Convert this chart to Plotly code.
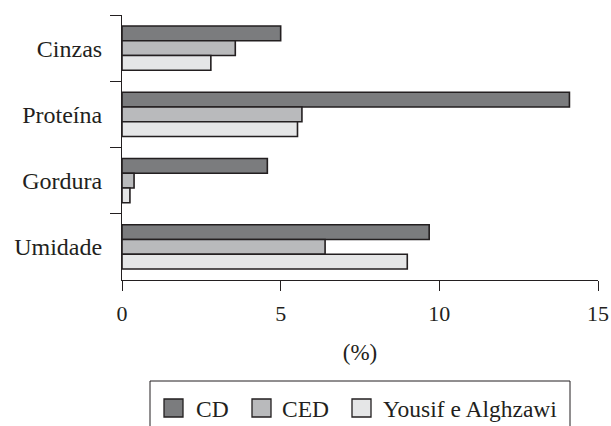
import plotly.graph_objects as go

categories = ["Cinzas", "Proteína", "Gordura", "Umidade"]
series_names = ["CD", "CED", "Yousif e Alghzawi"]
cd_values = [5.0, 14.1, 4.58, 9.68]
ced_values = [3.57, 5.67, 0.38, 6.4]
yousif_values = [2.8, 5.53, 0.25, 8.99]
x_ticks = [0, 5, 10, 15]

colors = ["#7b7c7e", "#b9babc", "#e5e6e7"]
W, H = 611, 426
L, R, T, B = 122, 13, 15, 146
FONT = "Liberation Serif"
INK = "#231f20"

fig = go.Figure()
for name, vals, col in zip(series_names, [cd_values, ced_values, yousif_values], colors):
    fig.add_trace(go.Bar(
        y=categories, x=vals, name=name, orientation="h",
        marker=dict(color=col, line=dict(color=INK, width=1.6)),
        showlegend=False,
    ))

pw, ph = W - L - R, H - T - B
def px(x):
    return (x - L) / pw
def py(y):
    return (H - B - y) / ph

# custom legend (box partially cut off at the bottom, as in the reference)
shapes = [dict(type="rect", xref="paper", yref="paper",
               x0=px(150), x1=px(570), y0=py(381), y1=py(460),
               line=dict(color=INK, width=1))]
annotations = []
sw_left = [164, 252, 352]
txt_left = [194, 280, 381]
cy = 408
for name, col, sl, tl in zip(series_names, colors, sw_left, txt_left):
    shapes.append(dict(type="rect", xref="paper", yref="paper",
                       x0=px(sl), x1=px(sl + 19), y0=py(cy - 9), y1=py(cy + 9),
                       fillcolor=col, line=dict(color=INK, width=1.3)))
    annotations.append(dict(text=name, xref="paper", yref="paper",
                            x=px(tl), y=py(cy + 1), xanchor="left", yanchor="middle",
                            showarrow=False, font=dict(family=FONT, size=23.5, color=INK)))

fig.update_layout(
    width=W, height=H,
    margin=dict(l=L, r=R, t=T, b=B, autoexpand=False),
    paper_bgcolor="white", plot_bgcolor="white",
    barmode="group", bargap=0.33, bargroupgap=0,
    font=dict(family=FONT, size=22, color=INK),
    xaxis=dict(range=[0, 15], tickvals=x_ticks, showgrid=False, zeroline=False,
               showline=True, linecolor=INK, linewidth=1,
               ticks="outside", ticklen=10, tickcolor=INK, tickwidth=1,
               ticklabelstandoff=4,
               title=dict(text="(%)", standoff=18, font=dict(family=FONT, size=23)),
               tickfont=dict(family=FONT, size=22)),
    yaxis=dict(categoryorder="array", categoryarray=categories, autorange="reversed",
               tickson="boundaries", ticks="outside", ticklen=11, tickcolor=INK,
               tickwidth=1, showline=True, linecolor=INK, linewidth=1, showgrid=False,
               zeroline=False, ticklabelstandoff=14,
               tickfont=dict(family=FONT, size=24)),
    showlegend=False,
    shapes=shapes,
    annotations=annotations,
)

fig.write_html("out.html", config={"displayModeBar": False},
               post_script="document.body.style.margin='0';document.body.style.overflow='hidden';")
